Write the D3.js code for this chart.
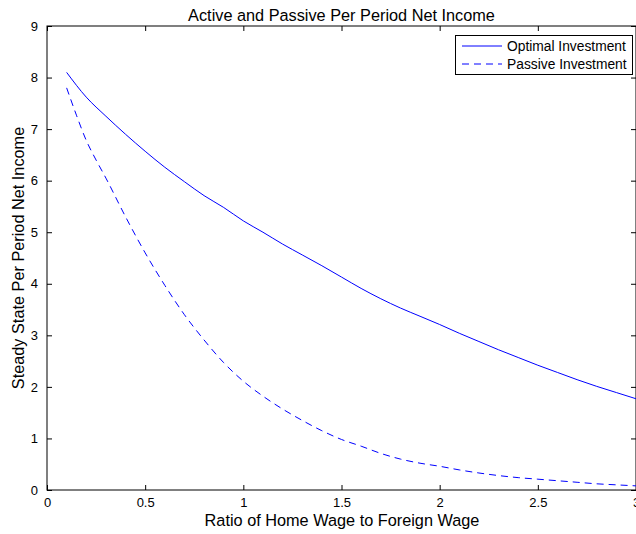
<!DOCTYPE html>
<html><head><meta charset="utf-8">
<script src="https://cdn.jsdelivr.net/npm/d3@7"></script>
<style>body{margin:0;background:#fff}svg{display:block}text{font-family:"Liberation Sans",Arial,Helvetica,sans-serif}</style>
</head><body><svg id="c" width="636" height="534"></svg>
<script>
const ratio = [0.1,0.2,0.3,0.4,0.5,0.6,0.7,0.8,0.9,1.0,1.1,1.2,1.3,1.4,1.5,1.6,1.7,1.8,1.9,2.0,2.1,2.2,2.3,2.4,2.5,2.6,2.7,2.8,2.9,3.0];
const optimal = [8.10,7.62,7.25,6.90,6.57,6.26,5.98,5.71,5.48,5.22,5.00,4.77,4.56,4.35,4.13,3.91,3.71,3.53,3.37,3.21,3.04,2.88,2.72,2.57,2.42,2.28,2.14,2.01,1.89,1.77];
const passiveX = [0.1,0.15,0.2,0.25,0.3,0.4,0.5,0.6,0.7,0.8,0.9,1.0,1.1,1.2,1.3,1.4,1.5,1.6,1.7,1.8,1.9,2.0,2.1,2.2,2.3,2.4,2.5,2.6,2.7,2.8,2.9,3.0];
const passive = [7.80,7.27,6.78,6.40,6.05,5.30,4.60,3.97,3.40,2.91,2.47,2.11,1.82,1.57,1.35,1.15,0.98,0.85,0.71,0.60,0.52,0.46,0.39,0.33,0.28,0.24,0.21,0.18,0.15,0.12,0.10,0.08];
const xTicks = [0,0.5,1,1.5,2,2.5,3];
const xTickLabels = ["0","0.5","1","1.5","2","2.5","3"];
const yTicks = [0,1,2,3,4,5,6,7,8,9];
const seriesNames = ["Optimal Investment","Passive Investment"];
const titleText = "Active and Passive Per Period Net Income";
const xLabel = "Ratio of Home Wage to Foreign Wage";
const yLabel = "Steady State Per Period Net Income";

const L=47, R=636, T=26, B=490;
const svg = d3.select("#c");
const x = d3.scaleLinear().domain([0,3]).range([L,R]);
const y = d3.scaleLinear().domain([0,9]).range([B,T]);
const tl = 5;

const g = svg.append("g");
g.append("rect").attr("x",L).attr("y",T).attr("width",R-L).attr("height",B-T).attr("fill","none").attr("stroke","#000").attr("stroke-width",1);

const xa = g.append("g").attr("transform",`translate(0,${B})`)
  .call(d3.axisBottom(x).tickValues(xTicks).tickFormat((d,i)=>xTickLabels[i]).tickSizeInner(-tl).tickSizeOuter(0).tickPadding(8));
xa.select(".domain").remove();
xa.selectAll("text").attr("font-size",13).attr("fill","#000");
xa.selectAll("line").attr("stroke","#000");
const xt = g.append("g").attr("transform",`translate(0,${T})`)
  .call(d3.axisTop(x).tickValues(xTicks).tickFormat("").tickSizeInner(-tl).tickSizeOuter(0));
xt.select(".domain").remove(); xt.selectAll("line").attr("stroke","#000");
const ya = g.append("g").attr("transform",`translate(${L},0)`)
  .call(d3.axisLeft(y).tickValues(yTicks).tickFormat(d3.format("d")).tickSizeInner(-tl).tickSizeOuter(0).tickPadding(9));
ya.select(".domain").remove();
ya.selectAll("text").attr("font-size",13).attr("fill","#000");
ya.selectAll("line").attr("stroke","#000");
const yr = g.append("g").attr("transform",`translate(${R},0)`)
  .call(d3.axisRight(y).tickValues(yTicks).tickFormat("").tickSizeInner(-tl).tickSizeOuter(0));
yr.select(".domain").remove(); yr.selectAll("line").attr("stroke","#000");

const line = d3.line().x(d=>x(d[0])).y(d=>y(d[1])).curve(d3.curveMonotoneX);
svg.append("path").datum(ratio.map((r,i)=>[r,optimal[i]])).attr("d",line)
  .attr("fill","none").attr("stroke","#0000ff").attr("stroke-width",1);
svg.append("path").datum(passiveX.map((r,i)=>[r,passive[i]])).attr("d",line)
  .attr("fill","none").attr("stroke","#0000ff").attr("stroke-width",1).attr("stroke-dasharray","7,5");

svg.append("text").attr("x",341.5).attr("y",20.5).attr("text-anchor","middle").attr("font-size",16.3).text(titleText);
svg.append("text").attr("x",342).attr("y",526).attr("text-anchor","middle").attr("font-size",16.3).text(xLabel);
svg.append("text").attr("transform",`translate(24,${(T+B)/2}) rotate(-90)`).attr("text-anchor","middle").attr("font-size",16.3).text(yLabel);

const lg = svg.append("g");
lg.append("rect").attr("x",455.5).attr("y",35.5).attr("width",177).attr("height",39).attr("fill","#fff").attr("stroke","#000").attr("stroke-width",1);
const rows = [{name:seriesNames[0],dash:null,yy:46},{name:seriesNames[1],dash:"7,5",yy:64}];
rows.forEach(r=>{
  lg.append("line").attr("x1",462).attr("x2",502).attr("y1",r.yy).attr("y2",r.yy).attr("stroke","#0000ff").attr("stroke-width",1).attr("stroke-dasharray",r.dash);
  lg.append("text").attr("x",507).attr("y",r.yy+5).attr("font-size",13.8).text(r.name);
});
</script></body></html>
